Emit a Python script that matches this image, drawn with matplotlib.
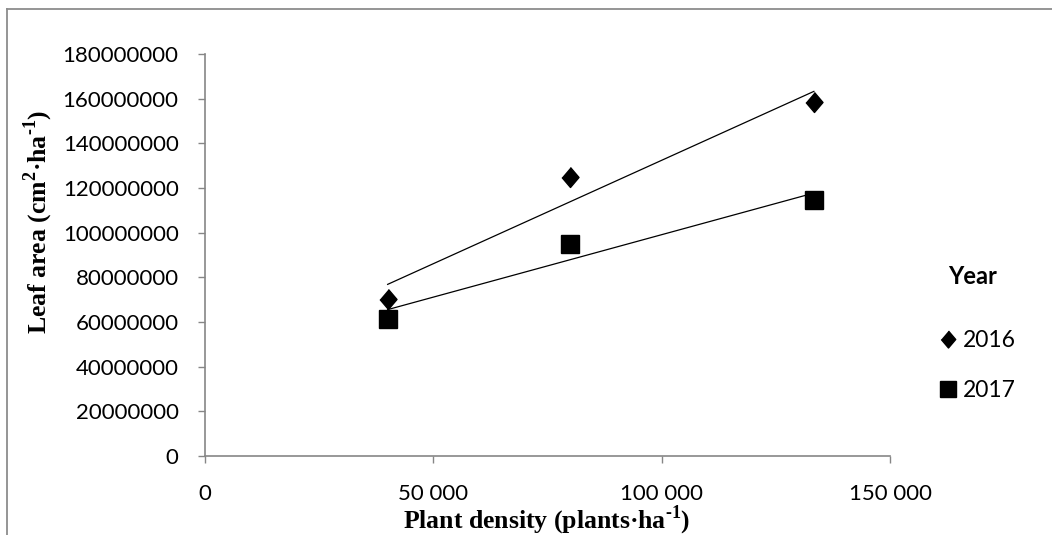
import numpy as np
import matplotlib
matplotlib.use('Agg')
import matplotlib.pyplot as plt
from matplotlib.ticker import FuncFormatter
from matplotlib.lines import Line2D

# data
density = [40000, 80000, 133333]                     # plants per ha
leaf_2016 = [70500000, 125000000, 158500000]         # cm2 per ha
leaf_2017 = [61500000, 95000000, 114700000]
years = ['2016', '2017']
y_ticks = np.arange(0, 180000001, 20000000)
x_ticks = [0, 50000, 100000, 150000]

plt.rcParams['mathtext.fontset'] = 'custom'
plt.rcParams['mathtext.bf'] = 'Liberation Serif:bold'
plt.rcParams['mathtext.rm'] = 'Liberation Serif:bold'

grey = '#868686'

fig = plt.figure(figsize=(10.52, 5.35), dpi=100)
ax = fig.add_axes([205/1052, 1-456/535, 685/1052, 402/535])

diamond = [(0, 1), (0.85, 0), (0, -1), (-0.85, 0)]
ax.plot(density, leaf_2016, linestyle='none', marker=diamond, ms=14.4, color='black', label=years[0])
ax.plot(density, leaf_2017, linestyle='none', marker='s', ms=13.5, color='black', label=years[1])

# linear trend lines
xs = np.array([min(density), max(density)])
for vals in (leaf_2016, leaf_2017):
    k, b = np.polyfit(density, vals, 1)
    ax.plot(xs, k * xs + b, color='black', lw=0.9)

ax.set_xlim(0, 150000)
ax.set_ylim(0, 180000000)
ax.set_xticks(x_ticks)
ax.set_yticks(y_ticks)
ax.xaxis.set_major_formatter(FuncFormatter(lambda v, p: '0' if v == 0 else '{:,}'.format(int(v)).replace(',', ' ')))
ax.yaxis.set_major_formatter(FuncFormatter(lambda v, p: str(int(v))))
for lab in ax.get_xticklabels() + ax.get_yticklabels():
    lab.set_fontfamily('Lato')
    lab.set_fontsize(16)
ax.tick_params(axis='y', length=5, width=1, color=grey, pad=14)
ax.tick_params(axis='x', length=5, width=1, color=grey, pad=15)

for s in ('top', 'right'):
    ax.spines[s].set_visible(False)
for s in ('left', 'bottom'):
    ax.spines[s].set_color(grey)
    ax.spines[s].set_linewidth(1.2)

fig.text(38/1052, 1-222/535, r'Leaf area (cm$^{\mathbf{2}}$·ha$^{\text{-}\mathbf{1}}$)', rotation=90,
         ha='center', va='center', family='Liberation Serif', weight='bold', size=18.5)
fig.text(547/1052, 1-528/535, r'Plant density (plants·ha$^{\text{-}\mathbf{1}}$)',
         ha='center', va='baseline', family='Liberation Serif', weight='bold', size=18.5)

# legend
fig.text(973/1052, 1-277/535, 'Year', ha='center', va='center', family='Lato', weight='bold', size=17)
leg = fig.legend(loc='upper left', bbox_to_anchor=(937/1052, 1-330/535), frameon=False,
                 prop={'family': 'Lato', 'size': 16.5}, handletextpad=0.15, handlelength=1.0,
                 labelspacing=1.25, markerscale=0.85, borderaxespad=0, borderpad=0)

# outer chart frame
fig.add_artist(Line2D([7/1052, 7/1052], [0, 1-9/535], color='#8c8c8c', lw=1.3))
fig.add_artist(Line2D([7/1052, 1], [1-9/535, 1-9/535], color='#8c8c8c', lw=1.3))

fig.savefig('out.png', dpi=100)
